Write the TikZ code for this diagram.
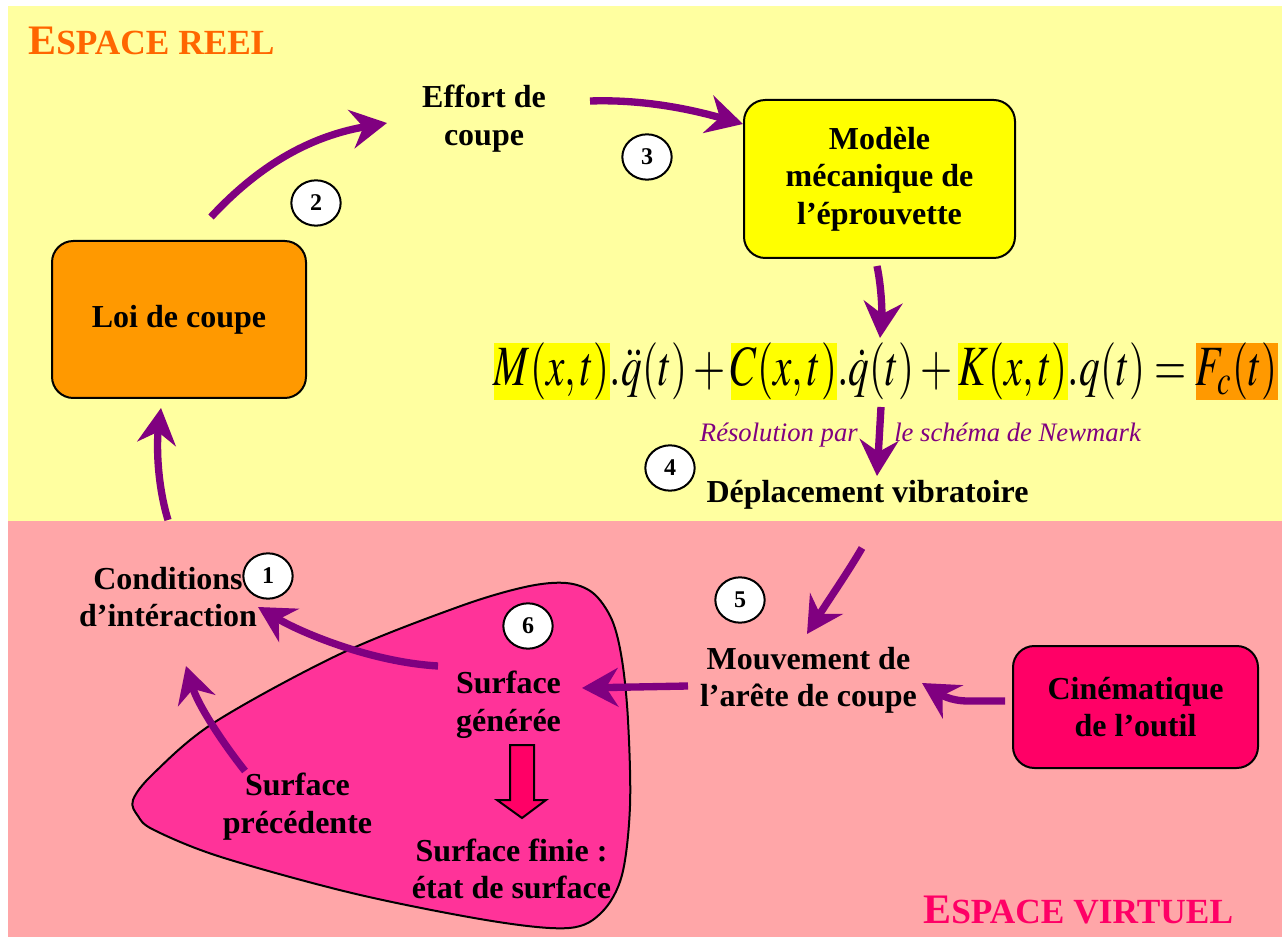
\documentclass[tikz,border=0pt]{standalone}
\usepackage{mathptmx}
\usepackage{fontspec}
\setmainfont{Liberation Serif}
\usetikzlibrary{arrows.meta,shapes.geometric}
\definecolor{bgyellow}{HTML}{FFFFA0}
\definecolor{bgpink}{HTML}{FFA6A8}
\definecolor{boxorange}{HTML}{FF9900}
\definecolor{boxyellow}{HTML}{FFFF00}
\definecolor{boxred}{HTML}{FF0066}
\definecolor{blobpink}{HTML}{FF3399}
\definecolor{arrowpurple}{HTML}{800080}
\definecolor{titleorange}{HTML}{FF6600}
\definecolor{titlered}{HTML}{FF0066}
\begin{document}
\begin{tikzpicture}[x=0.75pt,y=-0.75pt,
  lbl/.style={font=\bfseries\fontsize{24}{28}\selectfont, align=center, inner sep=0pt, text=black},
  roundbox/.style={draw=black, line width=1.5pt, rounded corners=16pt, align=center,
    font=\bfseries\fontsize{24}{28}\selectfont, inner sep=0pt},
  flow/.style={draw=arrowpurple, line width=5.5pt, -{Stealth[length=27pt,width=29pt,inset=9pt]}},
  numc/.style={ellipse, draw=black, fill=white, line width=1.5pt, minimum width=37pt,
    minimum height=34pt, inner sep=0pt, font=\bfseries\fontsize{18}{18}\selectfont},
  note/.style={font=\itshape\fontsize{20}{24}\selectfont, text=arrowpurple, inner sep=0pt},
  title/.style={font=\bfseries, inner sep=0pt, anchor=base west}]
\useasboundingbox (0,0) rectangle (1282,937);
\fill[white] (0,0) rectangle (1282,937);
\fill[bgyellow] (8,6) rectangle (1282,521);
\fill[bgpink] (8,521) rectangle (1282,937);

% titles
\node[title, text=titleorange] (treel) at (28,55)
  {{\fontsize{31.5}{32}\selectfont E}{\fontsize{26.5}{27}\selectfont SPACE REEL}};
\node[title, text=titlered] (tvirt) at (923,923)
  {{\fontsize{31.5}{32}\selectfont E}{\fontsize{26.5}{27}\selectfont SPACE VIRTUEL}};

% blob
\draw[fill=blobpink, line width=1.5pt] plot[smooth cycle, tension=0.55] coordinates {
  (133,800) (154,773) (215,722) (340,654) (458,607) (525,587) (566,583) (593,593) (612,620)
  (622,660) (628,720) (630,806) (622,875) (602,912) (569,928) (492,921) (356,894)
  (221,857) (154,830) (138,816)};

% boxes
\node[roundbox, fill=boxorange, minimum width=190.5pt, minimum height=117.75pt] (loi) at (179,319.5) {Loi de coupe};
\node[roundbox, fill=boxyellow, minimum width=203.25pt, minimum height=118.5pt] (modele) at (879.5,179) {Modèle\\mécanique de\\l’éprouvette};
\node[roundbox, fill=boxred, minimum width=183.75pt, minimum height=91.5pt] (cine) at (1135.5,707) {Cinématique\\de l’outil};

% block arrow
\draw[fill=boxred, line width=1.5pt, line join=miter] (510,745) -- (534,745) -- (534,800) -- (546,800) -- (522,818) -- (497,800) -- (510,800) -- cycle;

% equation
\node[inner sep=0pt] (eq) at (886,371.5) {\setlength{\fboxsep}{0pt}\resizebox*{588pt}{42.75pt}{%
  \colorbox{boxyellow}{$M(x,t)$}$.\ddot q(t)+{}$\colorbox{boxyellow}{$C(x,t)$}$.\dot q(t)+{}$\colorbox{boxyellow}{$K(x,t)$}$.q(t)={}$\colorbox{boxorange}{$F_c(t)$}}};

% text labels
\node[lbl, anchor=north] (effort) at (484,85) {Effort de\\coupe};
\node[lbl, anchor=base] (depl) at (867.5,503) {Déplacement vibratoire};
\node[lbl, anchor=north] (cond) at (168,567) {Conditions\\d’intéraction};
\node[lbl, anchor=north] (mouv) at (808.5,647) {Mouvement de\\l’arête de coupe};
\node[lbl, anchor=north] (sgen) at (508.5,671) {Surface\\générée};
\node[lbl, anchor=north] (sprec) at (297.5,773) {Surface\\précédente};
\node[lbl, anchor=north] (sfin) at (511.5,838.5) {Surface finie :\\état de surface};
\node[note, anchor=base east] (res1) at (858,442) {Résolution par};
\node[note, anchor=base west] (res2) at (894,442) {le schéma de Newmark};

% numbered circles
\node[numc] (n1) at (268,576) {1};
\node[numc] (n2) at (316,203) {2};
\node[numc] (n3) at (647,157) {3};
\node[numc] (n4) at (670,468) {4};
\node[numc] (n5) at (740,600) {5};
\node[numc] (n6) at (528,626) {6};

% connector ends
\coordinate (a1s) at (168,520); \coordinate (a1e) at (161,408);
\coordinate (a2s) at (211,217); \coordinate (a2e) at (387,123);
\coordinate (a3s) at (590,101); \coordinate (a3e) at (743,124);
\coordinate (a4s) at (877,266); \coordinate (a4e) at (880,338);
\coordinate (a5s) at (881,407); \coordinate (a5e) at (877,476);
\coordinate (a6s) at (862,548); \coordinate (a6e) at (807,634);
\coordinate (a7s) at (1005,701); \coordinate (a7e) at (922,683);
\coordinate (a8s) at (688,686); \coordinate (a8e) at (582,688);
\coordinate (a9s) at (438,666); \coordinate (a9e) at (258,607);
\coordinate (a10s) at (245,771); \coordinate (a10e) at (186,666);

% connectors
\draw[flow] (a1s) .. controls (156,480) and (157,440) .. (a1e);
\draw[flow] (a2s) .. controls (250,175) and (300,138) .. (a2e);
\draw[flow] (a3s) .. controls (650,99) and (700,112) .. (a3e);
\draw[flow] (a4s) .. controls (882,290) and (882,315) .. (a4e);
\draw[flow] (a5s) -- (a5e);
\draw[flow] (a6s) .. controls (848,572) and (830,598) .. (a6e);
\draw[flow] (a7s) -- (968,701) .. controls (950,701) and (940,694) .. (a7e);
\draw[flow] (a8s) -- (a8e);
\draw[flow] (a9s) .. controls (370,662) and (300,632) .. (a9e);
\draw[flow] (a10s) .. controls (222,742) and (198,705) .. (a10e);
\end{tikzpicture}
\end{document}
